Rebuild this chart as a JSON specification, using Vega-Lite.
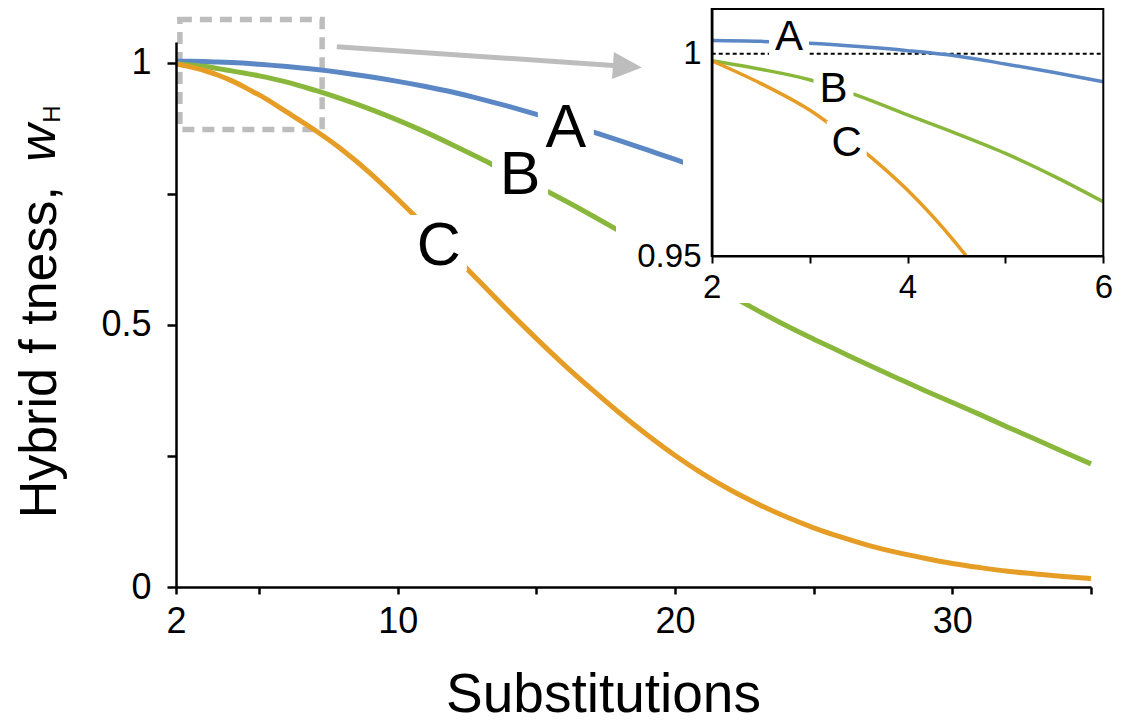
{
  "$schema": "https://vega.github.io/schema/vega-lite/v6.json",
  "width": 915,
  "height": 545,
  "autosize": {"type": "none"},
  "padding": {"left": 176, "top": 42, "right": 34, "bottom": 136},
  "background": "white",
  "config": {
    "view": {"stroke": null},
    "font": "Liberation Sans",
    "axis": {"domainColor": "black", "tickColor": "black", "labelColor": "black", "titleColor": "black", "labelFont": "Liberation Sans", "titleFont": "Liberation Sans", "titleFontWeight": "normal", "grid": false, "labelFlush": false, "labelOverlap": false}
  },
  "datasets": {
    "curves": [
      {"curve": "A", "substitutions": 2, "fitness": 1.0033},
      {"curve": "A", "substitutions": 2.5, "fitness": 1.0031},
      {"curve": "A", "substitutions": 3, "fitness": 1.0026},
      {"curve": "A", "substitutions": 3.5, "fitness": 1.0018},
      {"curve": "A", "substitutions": 4, "fitness": 1.0008},
      {"curve": "A", "substitutions": 4.5, "fitness": 0.9995},
      {"curve": "A", "substitutions": 5, "fitness": 0.9975},
      {"curve": "A", "substitutions": 5.5, "fitness": 0.9954},
      {"curve": "A", "substitutions": 6, "fitness": 0.9931},
      {"curve": "A", "substitutions": 7, "fitness": 0.9878},
      {"curve": "A", "substitutions": 8, "fitness": 0.9813},
      {"curve": "A", "substitutions": 9, "fitness": 0.9736},
      {"curve": "A", "substitutions": 10, "fitness": 0.9648},
      {"curve": "A", "substitutions": 11, "fitness": 0.955},
      {"curve": "A", "substitutions": 12, "fitness": 0.944},
      {"curve": "A", "substitutions": 13, "fitness": 0.931},
      {"curve": "A", "substitutions": 14, "fitness": 0.917},
      {"curve": "A", "substitutions": 15, "fitness": 0.902},
      {"curve": "A", "substitutions": 16, "fitness": 0.886},
      {"curve": "A", "substitutions": 17, "fitness": 0.869},
      {"curve": "A", "substitutions": 18, "fitness": 0.852},
      {"curve": "A", "substitutions": 19, "fitness": 0.834},
      {"curve": "A", "substitutions": 20, "fitness": 0.816},
      {"curve": "A", "substitutions": 21, "fitness": 0.797},
      {"curve": "A", "substitutions": 22, "fitness": 0.778},
      {"curve": "B", "substitutions": 2, "fitness": 0.9983},
      {"curve": "B", "substitutions": 2.5, "fitness": 0.9962},
      {"curve": "B", "substitutions": 3, "fitness": 0.9936},
      {"curve": "B", "substitutions": 3.5, "fitness": 0.9896},
      {"curve": "B", "substitutions": 4, "fitness": 0.9849},
      {"curve": "B", "substitutions": 4.5, "fitness": 0.9803},
      {"curve": "B", "substitutions": 5, "fitness": 0.9754},
      {"curve": "B", "substitutions": 5.5, "fitness": 0.9697},
      {"curve": "B", "substitutions": 6, "fitness": 0.9634},
      {"curve": "B", "substitutions": 7, "fitness": 0.948},
      {"curve": "B", "substitutions": 8, "fitness": 0.931},
      {"curve": "B", "substitutions": 9, "fitness": 0.912},
      {"curve": "B", "substitutions": 10, "fitness": 0.891},
      {"curve": "B", "substitutions": 11, "fitness": 0.868},
      {"curve": "B", "substitutions": 12, "fitness": 0.843},
      {"curve": "B", "substitutions": 13, "fitness": 0.817},
      {"curve": "B", "substitutions": 14, "fitness": 0.79},
      {"curve": "B", "substitutions": 15, "fitness": 0.765},
      {"curve": "B", "substitutions": 16, "fitness": 0.738},
      {"curve": "B", "substitutions": 17, "fitness": 0.709},
      {"curve": "B", "substitutions": 18, "fitness": 0.679},
      {"curve": "B", "substitutions": 19, "fitness": 0.648},
      {"curve": "B", "substitutions": 20, "fitness": 0.617},
      {"curve": "B", "substitutions": 21, "fitness": 0.586},
      {"curve": "B", "substitutions": 22, "fitness": 0.556},
      {"curve": "B", "substitutions": 23, "fitness": 0.527},
      {"curve": "B", "substitutions": 24, "fitness": 0.499},
      {"curve": "B", "substitutions": 25, "fitness": 0.473},
      {"curve": "B", "substitutions": 26, "fitness": 0.448},
      {"curve": "B", "substitutions": 27, "fitness": 0.423},
      {"curve": "B", "substitutions": 28, "fitness": 0.399},
      {"curve": "B", "substitutions": 29, "fitness": 0.375},
      {"curve": "B", "substitutions": 30, "fitness": 0.352},
      {"curve": "B", "substitutions": 31, "fitness": 0.329},
      {"curve": "B", "substitutions": 32, "fitness": 0.305},
      {"curve": "B", "substitutions": 33, "fitness": 0.282},
      {"curve": "B", "substitutions": 34, "fitness": 0.258},
      {"curve": "B", "substitutions": 35, "fitness": 0.235},
      {"curve": "C", "substitutions": 2, "fitness": 0.9983},
      {"curve": "C", "substitutions": 2.5, "fitness": 0.9927},
      {"curve": "C", "substitutions": 3, "fitness": 0.9861},
      {"curve": "C", "substitutions": 3.5, "fitness": 0.977},
      {"curve": "C", "substitutions": 4, "fitness": 0.9663},
      {"curve": "C", "substitutions": 4.5, "fitness": 0.953},
      {"curve": "C", "substitutions": 4.6, "fitness": 0.95},
      {"curve": "C", "substitutions": 5, "fitness": 0.939},
      {"curve": "C", "substitutions": 6, "fitness": 0.906},
      {"curve": "C", "substitutions": 7, "fitness": 0.872},
      {"curve": "C", "substitutions": 8, "fitness": 0.834},
      {"curve": "C", "substitutions": 9, "fitness": 0.79},
      {"curve": "C", "substitutions": 10, "fitness": 0.74},
      {"curve": "C", "substitutions": 11, "fitness": 0.688},
      {"curve": "C", "substitutions": 12, "fitness": 0.634},
      {"curve": "C", "substitutions": 13, "fitness": 0.58},
      {"curve": "C", "substitutions": 14, "fitness": 0.526},
      {"curve": "C", "substitutions": 15, "fitness": 0.474},
      {"curve": "C", "substitutions": 16, "fitness": 0.424},
      {"curve": "C", "substitutions": 17, "fitness": 0.377},
      {"curve": "C", "substitutions": 18, "fitness": 0.332},
      {"curve": "C", "substitutions": 19, "fitness": 0.29},
      {"curve": "C", "substitutions": 20, "fitness": 0.251},
      {"curve": "C", "substitutions": 21, "fitness": 0.216},
      {"curve": "C", "substitutions": 22, "fitness": 0.185},
      {"curve": "C", "substitutions": 23, "fitness": 0.158},
      {"curve": "C", "substitutions": 24, "fitness": 0.134},
      {"curve": "C", "substitutions": 25, "fitness": 0.113},
      {"curve": "C", "substitutions": 26, "fitness": 0.095},
      {"curve": "C", "substitutions": 27, "fitness": 0.079},
      {"curve": "C", "substitutions": 28, "fitness": 0.066},
      {"curve": "C", "substitutions": 29, "fitness": 0.055},
      {"curve": "C", "substitutions": 30, "fitness": 0.045},
      {"curve": "C", "substitutions": 31, "fitness": 0.037},
      {"curve": "C", "substitutions": 32, "fitness": 0.03},
      {"curve": "C", "substitutions": 33, "fitness": 0.025},
      {"curve": "C", "substitutions": 34, "fitness": 0.02},
      {"curve": "C", "substitutions": 35, "fitness": 0.016}
    ],
    "mainlabels": [
      {"curve": "A", "substitutions": 16.06, "fitness": 0.8816},
      {"curve": "B", "substitutions": 14.41, "fitness": 0.791},
      {"curve": "C", "substitutions": 11.48, "fitness": 0.6564}
    ],
    "insetlabels": [
      {"curve": "A", "substitutions": 2.79, "fitness": 1.00468},
      {"curve": "B", "substitutions": 3.244, "fitness": 0.99189},
      {"curve": "C", "substitutions": 3.379, "fitness": 0.97845}
    ]
  },
  "layer": [
    {
      "layer": [
        {
          "data": {"values": [{}]},
          "mark": {"type": "rect", "fillOpacity": 0, "stroke": "#bdbdbd", "strokeWidth": 5.5, "strokeDash": [12, 8]},
          "encoding": {
            "x": {"datum": 2.14, "type": "quantitative"},
            "x2": {"datum": 7.27},
            "y": {"datum": 0.873, "type": "quantitative"},
            "y2": {"datum": 1.0829}
          }
        },
        {
          "data": {"name": "curves"},
          "mark": {"type": "line", "strokeWidth": 5, "interpolate": "monotone"},
          "encoding": {
            "x": {
              "field": "substitutions", "type": "quantitative",
              "scale": {"domain": [2, 35], "nice": false, "zero": false},
              "axis": {"orient": "bottom", "title": "Substitutions", "values": [2, 5, 10, 15, 20, 25, 30, 35],
                "labelExpr": "indexof([2,10,20,30], datum.value) >= 0 ? datum.label : ''", "format": "d",
                "domainWidth": 2.5, "tickWidth": 2.5, "tickSize": 7, "labelFontSize": 36, "labelPadding": 10,
                "titleFontSize": 55, "titleX": 427, "titleY": 124, "titleBaseline": "alphabetic", "titleAlign": "center", "zindex": 1}
            },
            "y": {
              "field": "fitness", "type": "quantitative",
              "scale": {"domain": [0, 1.04], "nice": false, "zero": false},
              "axis": {"orient": "left", "title": "Hybrid f tness,", "values": [0, 0.25, 0.5, 0.75, 1],
                "labelExpr": "datum.value == 0 ? '0' : datum.value == 0.5 ? '0.5' : datum.value == 1 ? '1' : ''",
                "domainWidth": 2.5, "tickWidth": 2.5, "tickSize": 9, "labelFontSize": 36, "labelPadding": 16,
                "titleFontSize": 52, "titleAngle": 270, "titleX": -121, "titleY": 309.7, "titleBaseline": "alphabetic", "titleAlign": "center", "zindex": 1}
            },
            "color": {"field": "curve", "type": "nominal", "scale": {"domain": ["A", "B", "C"], "range": ["#5b87c5", "#89b73c", "#e69d25"]}, "legend": null}
          }
        },
        {
          "data": {"name": "mainlabels"},
          "mark": {"type": "point", "shape": "square", "filled": true, "color": "white", "opacity": 1, "size": 3136, "strokeWidth": 0},
          "encoding": {
            "x": {"field": "substitutions", "type": "quantitative"},
            "y": {"field": "fitness", "type": "quantitative"}
          }
        },
        {
          "data": {"name": "mainlabels"},
          "mark": {"type": "text", "fontSize": 61, "font": "Liberation Sans", "color": "black", "baseline": "alphabetic", "align": "center", "dy": 22},
          "encoding": {
            "x": {"field": "substitutions", "type": "quantitative"},
            "y": {"field": "fitness", "type": "quantitative"},
            "text": {"field": "curve"}
          }
        },
        {
          "data": {"values": [{}]},
          "mark": {"type": "rule", "color": "#bdbdbd", "strokeWidth": 5},
          "encoding": {
            "x": {"datum": 7.8, "type": "quantitative"},
            "x2": {"datum": 17.9},
            "y": {"datum": 1.031, "type": "quantitative"},
            "y2": {"datum": 0.9948}
          }
        },
        {
          "data": {"values": [{}]},
          "mark": {"type": "point", "shape": "M -1 -0.93 L 1 0 L -1 0.93 Z", "size": 841, "angle": 3.9, "filled": true, "color": "#bdbdbd", "opacity": 1, "strokeWidth": 0},
          "encoding": {
            "x": {"datum": 18.28, "type": "quantitative"},
            "y": {"datum": 0.9934, "type": "quantitative"}
          }
        },
        {
          "data": {"values": [{}]},
          "mark": {"type": "text", "text": "w", "fontSize": 52, "fontStyle": "italic", "font": "Liberation Sans", "angle": 270, "align": "center", "baseline": "alphabetic", "color": "black"},
          "encoding": {
            "x": {"datum": -2.364, "type": "quantitative"},
            "y": {"datum": 0.8473, "type": "quantitative"}
          }
        },
        {
          "data": {"values": [{}]},
          "mark": {"type": "text", "text": "H", "fontSize": 24, "font": "Liberation Sans", "angle": 270, "align": "center", "baseline": "alphabetic", "color": "black"},
          "encoding": {
            "x": {"datum": -2.183, "type": "quantitative"},
            "y": {"datum": 0.9026, "type": "quantitative"}
          }
        }
      ]
    },
    {
      "layer": [
        {
          "data": {"values": [{}]},
          "mark": {"type": "rect", "fill": "white", "strokeWidth": 0},
          "encoding": {
            "x": {"datum": 1.707, "type": "quantitative"},
            "x2": {"datum": 6.07},
            "y": {"datum": 0.93837, "type": "quantitative"},
            "y2": {"datum": 1.01333}
          }
        },
        {
          "data": {"values": [{}]},
          "mark": {"type": "rect", "fill": "white", "strokeWidth": 0},
          "encoding": {
            "x": {"datum": 1.0225, "type": "quantitative"},
            "x2": {"datum": 1.707},
            "y": {"datum": 0.93837, "type": "quantitative"},
            "y2": {"datum": 0.95742}
          }
        },
        {
          "data": {"values": [{}]},
          "mark": {"type": "rule", "color": "black", "strokeWidth": 2, "strokeDash": [4, 3]},
          "encoding": {
            "x": {"datum": 2, "type": "quantitative"},
            "x2": {"datum": 6},
            "y": {"datum": 1, "type": "quantitative"}
          }
        },
        {
          "data": {"name": "curves"},
          "transform": [{"filter": "datum.substitutions <= 6 && datum.fitness >= 0.95"}],
          "mark": {"type": "line", "strokeWidth": 3.5, "interpolate": "monotone"},
          "encoding": {
            "x": {
              "field": "substitutions", "type": "quantitative",
              "scale": {"domain": [2, 6], "range": [535.7, 927.3], "nice": false, "zero": false},
              "axis": {"orient": "bottom", "offset": -331, "zindex": 1, "title": null, "values": [2, 3, 4, 5, 6],
                "labelExpr": "datum.value % 2 == 0 ? datum.label : ''", "format": "d",
                "domainWidth": 2, "tickWidth": 2, "tickSize": 7, "labelFontSize": 33, "labelPadding": 8}
            },
            "y": {
              "field": "fitness", "type": "quantitative",
              "scale": {"domain": [0.95, 1.0111], "range": [214, -33], "nice": false, "zero": false},
              "axis": {"orient": "left", "offset": -536, "zindex": 1, "title": null, "values": [0.95, 1],
                "labelExpr": "datum.value == 1 ? '1' : '0.95'", "ticks": false, "tickSize": 0,
                "domainWidth": 2, "labelFontSize": 33, "labelPadding": 11}
            },
            "color": {"field": "curve", "type": "nominal", "scale": {"domain": ["A", "B", "C"], "range": ["#5b87c5", "#89b73c", "#e69d25"]}, "legend": null}
          }
        },
        {
          "data": {"name": "insetlabels"},
          "mark": {"type": "point", "shape": "square", "filled": true, "color": "white", "opacity": 1, "size": 1600, "strokeWidth": 0},
          "encoding": {
            "x": {"field": "substitutions", "type": "quantitative"},
            "y": {"field": "fitness", "type": "quantitative"}
          }
        },
        {
          "data": {"name": "insetlabels"},
          "mark": {"type": "text", "fontSize": 42, "font": "Liberation Sans", "color": "black", "baseline": "alphabetic", "align": "center", "dy": 15},
          "encoding": {
            "x": {"field": "substitutions", "type": "quantitative"},
            "y": {"field": "fitness", "type": "quantitative"},
            "text": {"field": "curve"}
          }
        },
        {
          "data": {"values": [{}]},
          "mark": {"type": "rect", "fillOpacity": 0, "stroke": "black", "strokeWidth": 2},
          "encoding": {
            "x": {"datum": 2, "type": "quantitative"},
            "x2": {"datum": 6},
            "y": {"datum": 0.95, "type": "quantitative"},
            "y2": {"datum": 1.0111}
          }
        }
      ]
    }
  ],
  "resolve": {"scale": {"x": "independent", "y": "independent"}, "axis": {"x": "independent", "y": "independent"}}
}
